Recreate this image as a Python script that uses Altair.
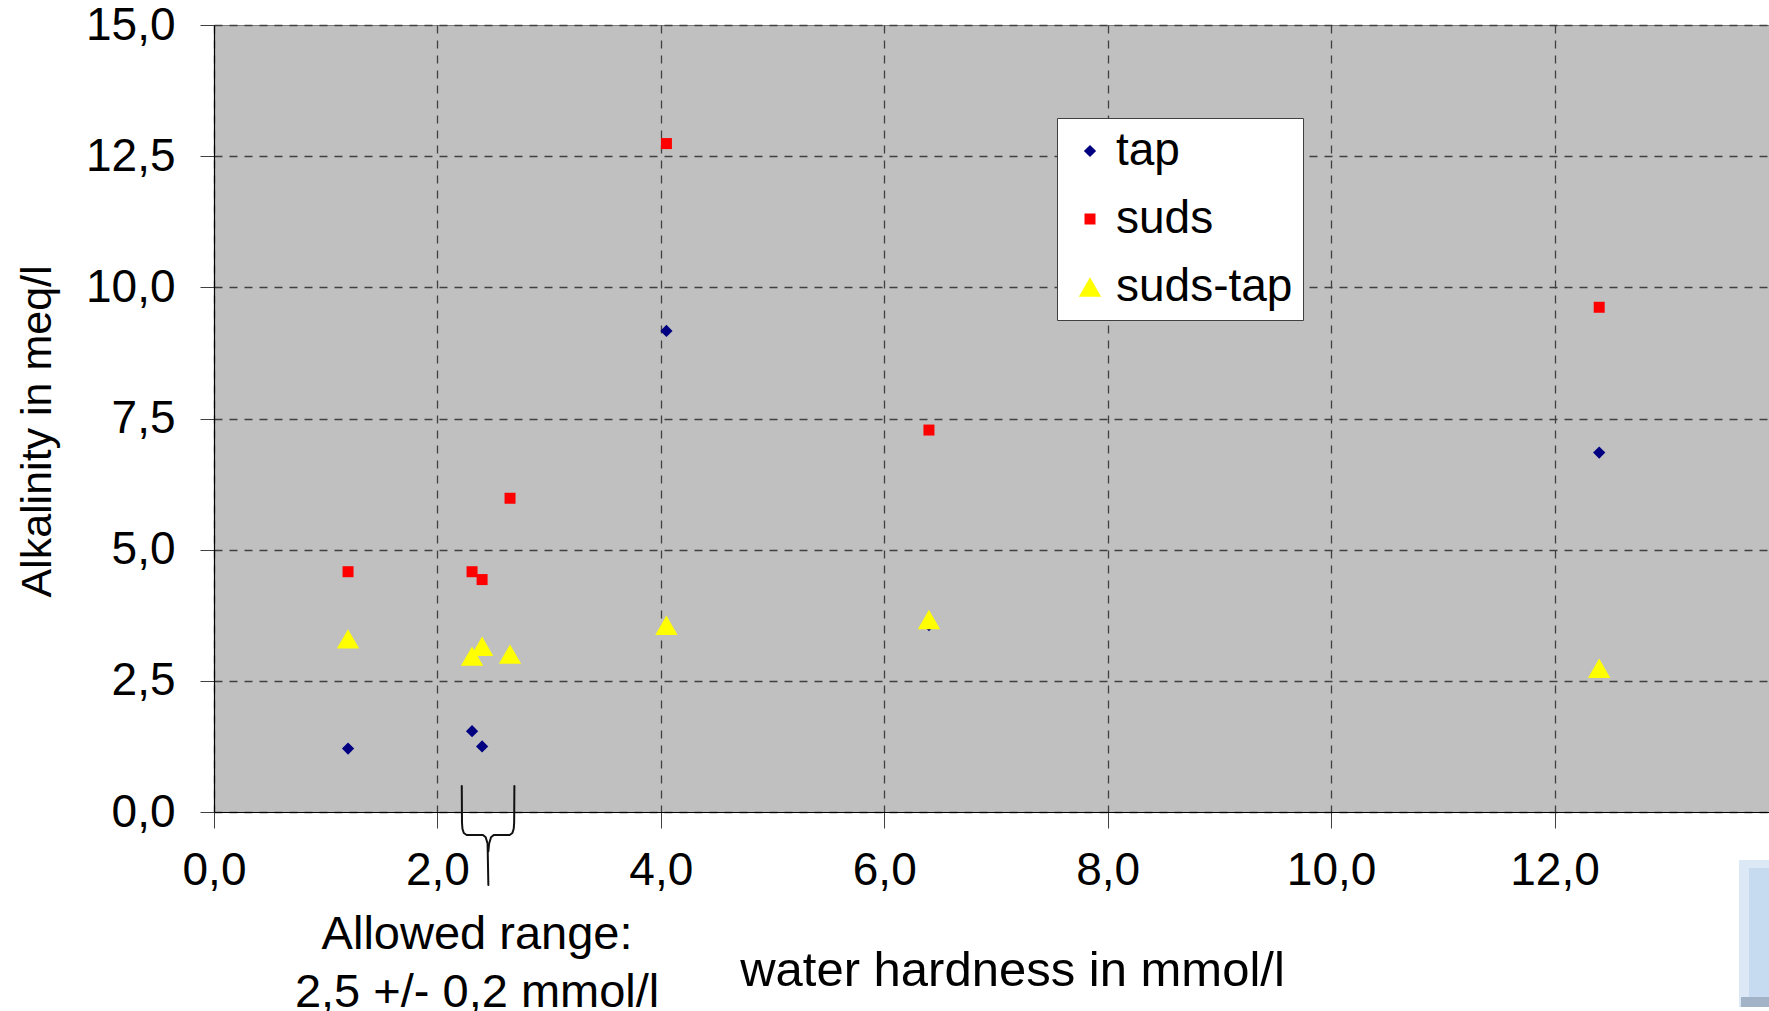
import altair as alt
import pandas as pd

# ---------------- data ----------------
hardness = [1.20, 2.31, 2.40, 2.65, 4.05, 6.40, 12.40]
tap_alk = [1.21, 1.54, 1.25, 2.97, 9.17, 3.56, 6.85]
suds_alk = [4.58, 4.58, 4.43, 5.98, 12.74, 7.28, 9.62]
diff_alk = [3.30, 2.97, 3.16, 3.01, 3.56, 3.67, 2.74]

series_names = ["tap", "suds", "suds-tap"]
series_colors = ["#000080", "#FF0000", "#FFFF00"]
series_shapes = ["diamond", "square", "triangle-up"]
series_sizes = [150, 121, 500]

x_tick_values = [0, 2, 4, 6, 8, 10, 12]
y_tick_values = [0, 2.5, 5, 7.5, 10, 12.5, 15]

# annotation (in data units of the two axes)
annotation_lines = ["Allowed range:", "2,5 +/- 0,2 mmol/l"]
annotation_x = [2.355, 2.355]
annotation_y = [-2.61, -3.72]

brace_left_x = [2.218, 2.220, 2.224, 2.236, 2.262, 2.408, 2.432, 2.449, 2.456]
brace_left_y = [0.495, -0.20, -0.32, -0.40, -0.438, -0.438, -0.48, -0.60, -1.391]
brace_right_x = [2.689, 2.687, 2.683, 2.671, 2.647, 2.504, 2.480, 2.463, 2.456]
brace_right_y = [0.495, -0.20, -0.32, -0.40, -0.438, -0.438, -0.48, -0.60, -0.75]

FONT = "Liberation Sans"

# ---------------- tables ----------------
rows = []
for name, vals in zip(series_names, [tap_alk, suds_alk, diff_alk]):
    for h, v in zip(hardness, vals):
        rows.append({"hardness": h, "value": v, "series": name})
points_df = pd.DataFrame(rows)

brace_rows = []
for i, (bx, by) in enumerate(zip(brace_left_x, brace_left_y)):
    brace_rows.append({"hardness": bx, "value": by, "part": "left", "step": i})
for i, (bx, by) in enumerate(zip(brace_right_x, brace_right_y)):
    brace_rows.append({"hardness": bx, "value": by, "part": "right", "step": i})
brace_df = pd.DataFrame(brace_rows)

text_df = pd.DataFrame({"hardness": annotation_x, "value": annotation_y, "label": annotation_lines})

comma_fmt = "replace(format(datum.value, '.1f'), '.', ',')"

x_enc = alt.X(
    "hardness:Q",
    scale=alt.Scale(domain=[0, 13.92], nice=False, zero=False),
    axis=alt.Axis(
        values=x_tick_values,
        labelExpr=comma_fmt,
        title="water hardness in mmol/l",
        grid=True,
        gridColor="#404040",
        gridDash=[8, 7],
        gridWidth=1.3,
        domainColor="#000000",
        domainWidth=1.2,
        tickColor="#404040",
        tickSize=16,
        tickWidth=1,
        labelFont=FONT,
        labelFontSize=46,
        labelColor="#000000",
        labelPadding=20,
        labelFlush=False,
        labelOverlap=False,
        titleFont=FONT,
        titleFontSize=49,
        titleFontWeight="normal",
        titleColor="#000000",
        titleX=798,
        titleY=173,
        titleAlign="center",
        titleBaseline="alphabetic",
        titleAngle=0,
    ),
)

y_enc = alt.Y(
    "value:Q",
    scale=alt.Scale(domain=[0, 15], nice=False, zero=False),
    axis=alt.Axis(
        values=y_tick_values,
        labelExpr=comma_fmt,
        title="Alkalinity in meq/l",
        grid=True,
        gridColor="#404040",
        gridDash=[8, 7],
        gridWidth=1.3,
        domainColor="#000000",
        domainWidth=1.2,
        tickColor="#404040",
        tickSize=14,
        tickWidth=1,
        labelFont=FONT,
        labelFontSize=46,
        labelColor="#000000",
        labelPadding=25,
        labelFlush=False,
        labelOverlap=False,
        titleFont=FONT,
        titleFontSize=43,
        titleFontWeight="normal",
        titleColor="#000000",
        titleX=-177,
        titleY=406,
        titleAlign="center",
        titleBaseline="middle",
        titleAngle=270,
    ),
)

legend = alt.Legend(
    title=None,
    orient="none",
    legendX=843,
    legendY=93,
    labelFont=FONT,
    labelFontSize=46,
    labelColor="#000000",
    labelLimit=400,
    labelOffset=3,
    padding=10,
    rowPadding=22,
    fillColor="#FFFFFF",
    strokeColor="#404040",
    symbolStrokeWidth=0,
    symbolOpacity=1,
)

points = alt.Chart(points_df).mark_point(filled=True, opacity=1, strokeWidth=0).encode(
    x=x_enc,
    y=y_enc,
    color=alt.Color("series:N", scale=alt.Scale(domain=series_names, range=series_colors), legend=legend),
    shape=alt.Shape("series:N", scale=alt.Scale(domain=series_names, range=series_shapes), legend=legend),
    size=alt.Size("series:N", scale=alt.Scale(type="ordinal", domain=series_names, range=series_sizes), legend=legend),
)

brace = alt.Chart(brace_df).mark_line(
    color="#111111", strokeWidth=2, clip=False, strokeJoin="round", strokeCap="round"
).encode(
    x=x_enc,
    y=y_enc,
    detail="part:N",
    order="step:Q",
)

note = alt.Chart(text_df).mark_text(
    font=FONT, fontSize=47, color="#000000", align="center", baseline="alphabetic", clip=False
).encode(
    x=x_enc,
    y=y_enc,
    text="label:N",
)

# slide decoration at bottom-right corner
deco_outer = alt.Chart(alt.Data(values=[{"k": 1}])).mark_rect(color="#DCE8F6").encode(
    x=alt.value(1525), x2=alt.value(1560), y=alt.value(835), y2=alt.value(982)
)
deco_face = alt.Chart(alt.Data(values=[{"k": 1}])).mark_rect(color="#C6DAF0").encode(
    x=alt.value(1535), x2=alt.value(1560), y=alt.value(843), y2=alt.value(972)
)
deco_bottom = alt.Chart(alt.Data(values=[{"k": 1}])).mark_rect(color="#A3B3C7").encode(
    x=alt.value(1527), x2=alt.value(1560), y=alt.value(972), y2=alt.value(982)
)

chart = alt.layer(points, brace, note, deco_outer, deco_face, deco_bottom).properties(
    width=1555,
    height=787,
    padding={"left": 214, "top": 25, "right": 0, "bottom": 199},
    autosize=alt.AutoSizeParams(type="none"),
    background="#FFFFFF",
).configure_view(
    fill="#C0C0C0", stroke="#808080", strokeWidth=1
)

chart.save("out.html", embed_options={"renderer": "svg", "actions": False})
